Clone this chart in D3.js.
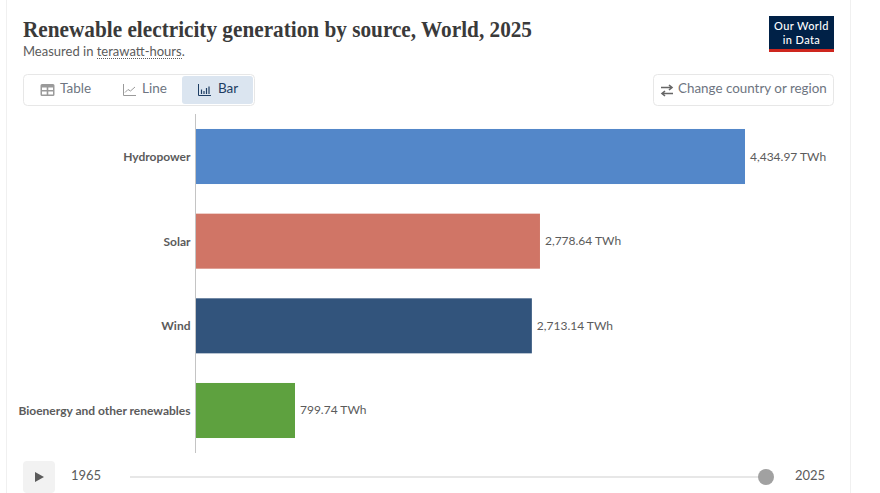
<!DOCTYPE html>
<html><head><meta charset="utf-8">
<script src="https://cdn.jsdelivr.net/npm/d3@7/dist/d3.min.js"></script>
<style>html,body{margin:0;padding:0;background:#fff;overflow:hidden}svg{display:block;font-family:Lato,sans-serif}</style>
</head><body><svg id="c" width="880" height="493"></svg>
<script>
const categories = ["Hydropower","Solar","Wind","Bioenergy and other renewables"];
const values = [4434.97,2778.64,2713.14,799.74];
const colors = ["#5387c9","#d07566","#32547c","#5ea13f"];
const tabs = ["Table","Line","Bar"];
const years = [1965,2025];
const title = "Renewable electricity generation by source, World, 2025";

const svg = d3.select("#c");
[6.5,850.5].forEach(x=>svg.append("line").attr("x1",x).attr("x2",x).attr("y1",0).attr("y2",493).attr("stroke","#f0f0f0"));

svg.append("text").attr("x",23).attr("y",37).attr("font-family","'Liberation Serif',serif").attr("font-weight",700)
  .attr("font-size",23).attr("fill","#3a3a3a").attr("textLength",509).attr("lengthAdjust","spacingAndGlyphs").text(title);
const sub = svg.append("text").attr("x",23).attr("y",56).attr("font-size",13).attr("fill","#5b5b5b");
sub.append("tspan").text("Measured in ");
sub.append("tspan").text("terawatt-hours");
sub.append("tspan").text(".");
svg.append("line").attr("x1",97).attr("x2",182).attr("y1",58.5).attr("y2",58.5).attr("stroke","#5b5b5b").attr("stroke-dasharray","1 1");

// logo
svg.append("rect").attr("x",769).attr("y",16).attr("width",65).attr("height",36).attr("fill","#002147");
svg.append("rect").attr("x",769).attr("y",49).attr("width",65).attr("height",3).attr("fill","#ce261e");
svg.append("text").attr("x",801.5).attr("y",30).attr("text-anchor","middle").attr("font-size",11).attr("letter-spacing",0.4).attr("font-weight",500).attr("fill","#fff").text("Our World");
svg.append("text").attr("x",801.5).attr("y",43.5).attr("text-anchor","middle").attr("font-size",11).attr("letter-spacing",0.4).attr("font-weight",500).attr("fill","#fff").text("in Data");

// tabs
svg.append("rect").attr("x",23.5).attr("y",74.5).attr("width",231).attr("height",31).attr("rx",4).attr("fill","#fff").attr("stroke","#e7e7e7");
svg.append("rect").attr("x",182).attr("y",76).attr("width",71).attr("height",28).attr("rx",3).attr("fill","#dbe5f0");
const tabX=[60,142,218], tabC=["#6e7581","#6e7581","#1d3d63"];
tabs.forEach((t,i)=>svg.append("text").attr("x",tabX[i]).attr("y",93).attr("font-size",13.5).attr("fill",tabC[i]).text(t));
// table icon
svg.append("path").attr("fill","#9a9a9a").attr("fill-rule","evenodd").attr("d","M42 84h11a1.500 1.500 0 0 1 1.500 1.500v9a1.500 1.500 0 0 1-1.500 1.500h-11a1.500 1.500 0 0 1-1.500-1.500v-9a1.500 1.500 0 0 1 1.500-1.500zM42 87.500v2.500h4.700v-2.500zM48.300 87.500v2.500h4.700v-2.500zM42 91.500v3h4.700v-3zM48.300 91.500v3h4.700v-3z");
// line icon
svg.append("path").attr("d","M123.500 84v11.500H136").attr("fill","none").attr("stroke","#9a9a9a").attr("stroke-width",1);
svg.append("path").attr("d","M125 92.500l3-3 2.500 1.500 4.500-4").attr("fill","none").attr("stroke","#9a9a9a").attr("stroke-width",1);
// bar icon
svg.append("path").attr("d","M198.500 84v11.500H211").attr("fill","none").attr("stroke","#1d3d63").attr("stroke-width",1);
[[201,89.500],[203.500,91],[206,88],[208.500,86.500]].forEach(d=>svg.append("line").attr("x1",d[0]+.5).attr("x2",d[0]+.5).attr("y1",d[1]).attr("y2",94).attr("stroke","#1d3d63").attr("stroke-width",1.2));

// change country
svg.append("rect").attr("x",653.5).attr("y",74.5).attr("width",180).attr("height",31).attr("rx",4).attr("fill","#fff").attr("stroke","#e7e7e7");
svg.append("text").attr("x",678).attr("y",93).attr("font-size",13.4).attr("fill","#6e7581").text("Change country or region");
svg.append("path").attr("d","M661 87.500h11M669 85l3 2.500-3 2.500M673 93.500h-11M665 91l-3 2.500 3 2.500").attr("fill","none").attr("stroke","#666").attr("stroke-width",1.6);

// chart
const x = d3.scaleLinear().domain([0,d3.max(values)]).range([196,745]);
const y = d3.scaleBand().domain(categories).range([114,453]).paddingInner(0.35).paddingOuter(0.177);
svg.selectAll("rect.bar").data(values).join("rect").attr("class","bar")
  .attr("x",x(0)).attr("y",(d,i)=>y(categories[i])).attr("width",d=>x(d)-x(0)).attr("height",y.bandwidth()).attr("fill",(d,i)=>colors[i]);
svg.append("line").attr("x1",195.5).attr("x2",195.5).attr("y1",114).attr("y2",453).attr("stroke","#c4c4c4");
const cy=c=>y(c)+y.bandwidth()/2;
svg.selectAll("text.cat").data(categories).join("text").attr("class","cat")
  .attr("x",190.5).attr("y",d=>cy(d)+4.5).attr("text-anchor","end").attr("font-size",12).attr("font-weight",700).attr("fill","#5b5b5b").text(d=>d);
svg.selectAll("text.val").data(values).join("text").attr("class","val")
  .attr("x",d=>x(d)+5).attr("y",(d,i)=>cy(categories[i])+4).attr("font-size",12).attr("fill","#5b5b5b")
  .text(d=>d3.format(",.2f")(d)+" TWh");

// timeline
svg.append("rect").attr("x",23).attr("y",461).attr("width",32).attr("height",32).attr("rx",4).attr("fill","#f2f2f2");
svg.append("path").attr("d","M35 472v10l9-5z").attr("fill","#5b5b5b");
svg.append("text").attr("x",71).attr("y",480).attr("font-size",13).attr("fill","#5b5b5b").text(years[0]);
svg.append("text").attr("x",795).attr("y",480).attr("font-size",13).attr("fill","#5b5b5b").text(years[1]);
const tx=d3.scaleLinear().domain(years).range([130,766]);
svg.append("rect").attr("x",tx(years[0])).attr("y",476).attr("width",tx(years[1])-tx(years[0])).attr("height",2).attr("fill","#e7e7e7");
svg.append("circle").attr("cx",tx(years[1])).attr("cy",477).attr("r",8).attr("fill","#a1a1a1");
</script></body></html>
